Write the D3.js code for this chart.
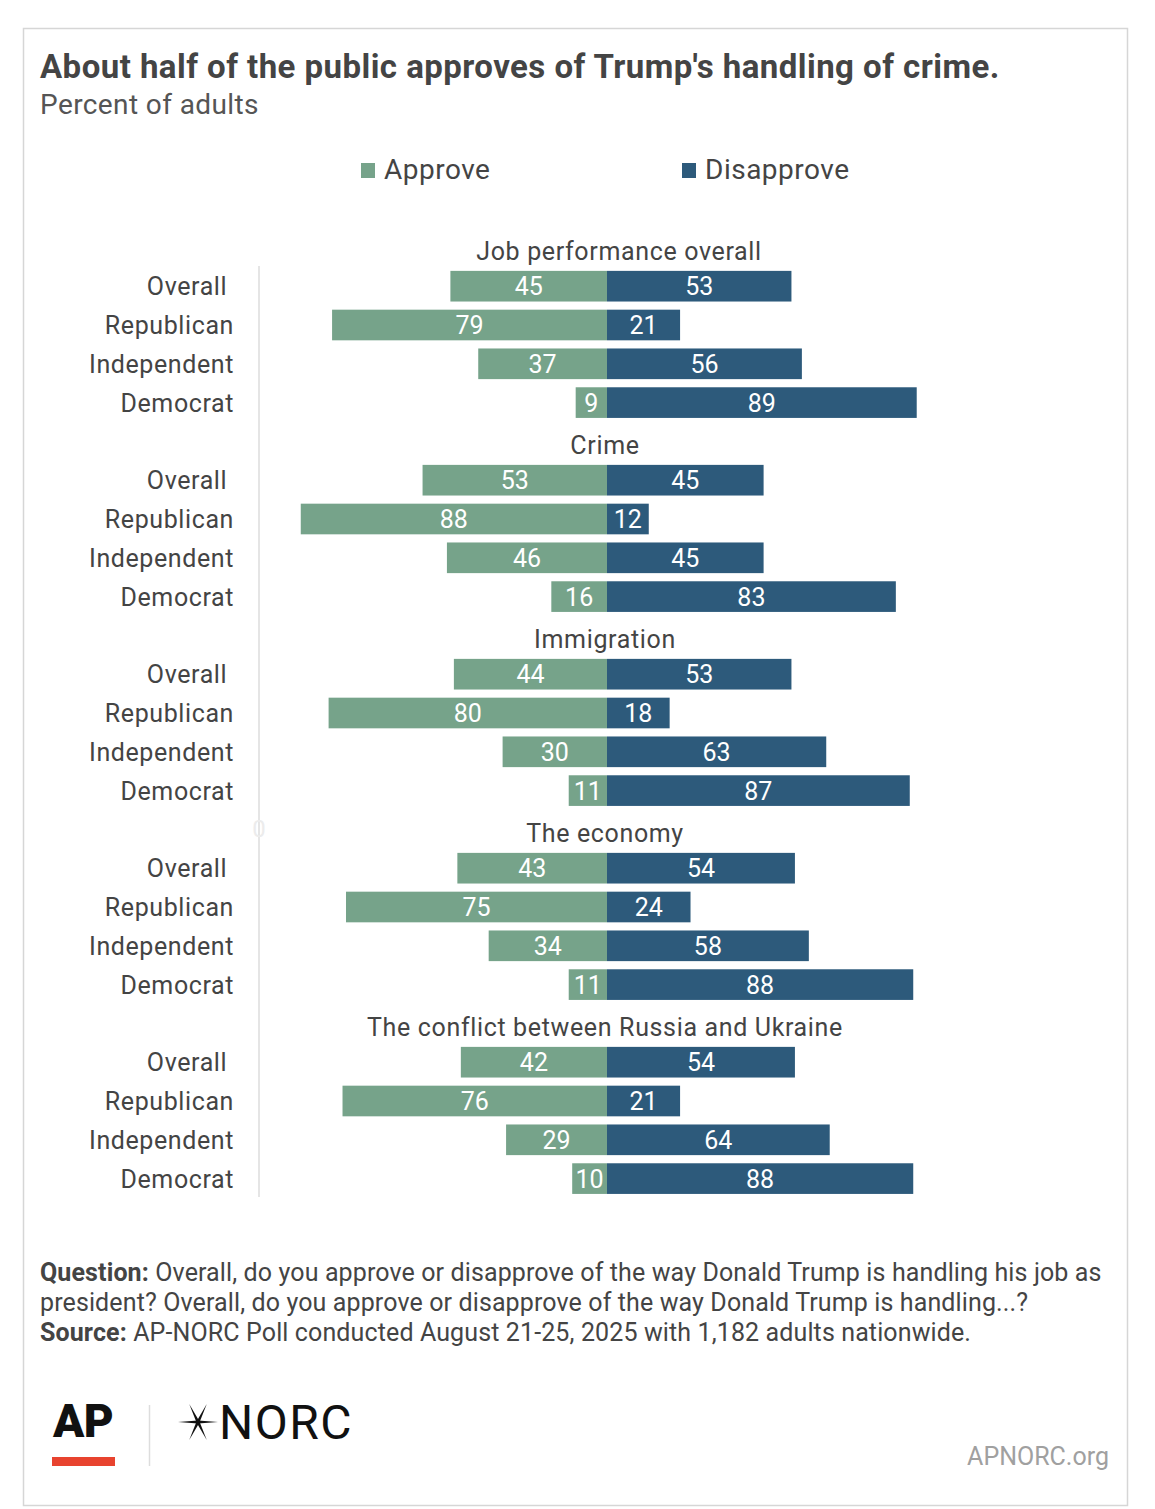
<!DOCTYPE html>
<html><head><meta charset="utf-8">
<script src="https://cdn.jsdelivr.net/npm/d3@7"></script>
<style>
html,body{margin:0;padding:0;background:#fff;}
svg{display:block;font-family:Roboto,"Noto Sans",sans-serif;}
</style></head>
<body><svg id="c" width="1155" height="1509"></svg>
<script>
const groups = ["Job performance overall","Crime","Immigration","The economy","The conflict between Russia and Ukraine"];
const categories = ["Overall","Republican","Independent","Democrat"];
const approve = [
  [45,79,37,9],
  [53,88,46,16],
  [44,80,30,11],
  [43,75,34,11],
  [42,76,29,10]
];
const disapprove = [
  [53,21,56,89],
  [45,12,45,83],
  [53,18,63,87],
  [54,24,58,88],
  [54,21,64,88]
];
const seriesNames = ["Approve","Disapprove"];
const colors = {Approve:"#76a38a", Disapprove:"#2d5a7b"};

const svg = d3.select("#c");
const textColor = "#444";

// frame
svg.append("rect").attr("x",23.5).attr("y",28.5).attr("width",1104).attr("height",1477)
  .attr("fill","#fff").attr("stroke","#d6d6d6").attr("stroke-width",1.5);

// title
svg.append("text").attr("x",40).attr("y",78).attr("font-size",33).attr("font-weight",700)
  .attr("letter-spacing",0.45).attr("fill","#444")
  .text("About half of the public approves of Trump's handling of crime.");
svg.append("text").attr("x",40).attr("y",114).attr("font-size",28).attr("letter-spacing",0.4).attr("fill","#555")
  .text("Percent of adults");

// legend
const legX = [361, 682];
seriesNames.forEach((s,i)=>{
  svg.append("rect").attr("x",legX[i]).attr("y",163).attr("width",14).attr("height",15).attr("fill",colors[s]);
  svg.append("text").attr("x",legX[i]+23).attr("y",179).attr("font-size",28).attr("letter-spacing",0.5)
    .attr("fill","#444").text(s);
});

// rows
const keys = [];
groups.forEach((g,gi)=>{
  keys.push("h"+gi);
  categories.forEach((c,ci)=>keys.push(gi+"-"+ci));
});
const y = d3.scaleBand().domain(keys).range([228,1198]).paddingInner(0.21).paddingOuter(0.105);
const x = d3.scaleLinear().domain([-100,100]).range([259,955]);

// axis line at -100 and faint tick
svg.append("line").attr("x1",x(-100)).attr("x2",x(-100)).attr("y1",266).attr("y2",1197)
  .attr("stroke","#dcdcdc").attr("stroke-width",1.5);
svg.append("text").attr("x",x(-100)).attr("y",837).attr("text-anchor","middle").attr("font-size",24)
  .attr("fill","#ececec").text("0");

const rows = [];
groups.forEach((g,gi)=>categories.forEach((c,ci)=>{
  rows.push({g:gi,cat:c,key:gi+"-"+ci,a:approve[gi][ci],d:disapprove[gi][ci]});
}));

// headers
svg.append("g").selectAll("text").data(groups).join("text")
  .attr("x",(d,i)=> i===0 ? 619 : 605)
  .attr("y",(d,i)=>y("h"+i)+y.bandwidth()/2+13)
  .attr("text-anchor","middle").attr("font-size",25).attr("letter-spacing",0.65)
  .attr("fill",textColor).text(d=>d);

// category labels
svg.append("g").selectAll("text").data(rows).join("text")
  .attr("x",234).attr("y",d=>y(d.key)+y.bandwidth()/2+9)
  .attr("text-anchor","end").attr("font-size",25).attr("letter-spacing",0.6)
  .attr("fill",textColor).text(d=>d.cat==="Overall" ? d.cat+"\u00a0" : d.cat);

// bars
const bars = svg.append("g");
bars.selectAll("rect.a").data(rows).join("rect").attr("class","a")
  .attr("x",d=>x(-d.a)).attr("width",d=>x(0)-x(-d.a))
  .attr("y",d=>y(d.key)).attr("height",y.bandwidth()).attr("fill",colors.Approve);
bars.selectAll("rect.d").data(rows).join("rect").attr("class","d")
  .attr("x",x(0)).attr("width",d=>x(d.d)-x(0))
  .attr("y",d=>y(d.key)).attr("height",y.bandwidth()).attr("fill",colors.Disapprove);

// value labels
const lab = svg.append("g").attr("font-size",25).attr("fill","#fff").attr("text-anchor","middle");
lab.selectAll("text.a").data(rows).join("text").attr("class","a")
  .attr("x",d=>(x(-d.a)+x(0))/2).attr("y",d=>y(d.key)+y.bandwidth()/2+9).text(d=>d.a);
lab.selectAll("text.d").data(rows).join("text").attr("class","d")
  .attr("x",d=>(x(d.d)+x(0))/2).attr("y",d=>y(d.key)+y.bandwidth()/2+9).text(d=>d.d);

// notes
const notes = [
  [["Question: ",true],["Overall, do you approve or disapprove of the way Donald Trump is handling his job as",false]],
  [["president? Overall, do you approve or disapprove of the way Donald Trump is handling...?",false]],
  [["Source: ",true],["AP-NORC Poll conducted August 21-25, 2025 with 1,182 adults nationwide.",false]]
];
notes.forEach((line,i)=>{
  const t = svg.append("text").attr("x",40).attr("y",1281+i*30).attr("font-size",25)
    .attr("letter-spacing",0.12).attr("fill","#444");
  line.forEach(([s,b])=>t.append("tspan").attr("font-weight",b?700:400).text(s));
});

// logos
svg.append("text").attr("x",53).attr("y",1437).attr("font-size",46).attr("font-weight",900)
  .attr("letter-spacing",-0.5).attr("fill","#111").text("AP");
svg.append("rect").attr("x",52).attr("y",1457).attr("width",63).attr("height",9).attr("fill","#e8432f");
svg.append("line").attr("x1",149.5).attr("x2",149.5).attr("y1",1405).attr("y2",1466).attr("stroke","#ddd").attr("stroke-width",1.5);
// star
const sx=198, sy=1422, R=20, w=1.5;
const star = svg.append("g").attr("transform",`translate(${sx},${sy})`);
[0,180,64,116,244,296].forEach(a=>{
  star.append("path").attr("fill","#111")
    .attr("d",`M0,${-w} L${R},0 L0,${w} Z`)
    .attr("transform",`rotate(${a})`);
});
svg.append("text").attr("x",219).attr("y",1439).attr("font-size",48).attr("font-weight",400)
  .attr("letter-spacing",1.5).attr("fill","#111").text("NORC");
svg.append("text").attr("x",1109).attr("y",1465).attr("text-anchor","end").attr("font-size",25)
  .attr("fill","#a0a0a0").text("APNORC.org");
</script></body></html>
